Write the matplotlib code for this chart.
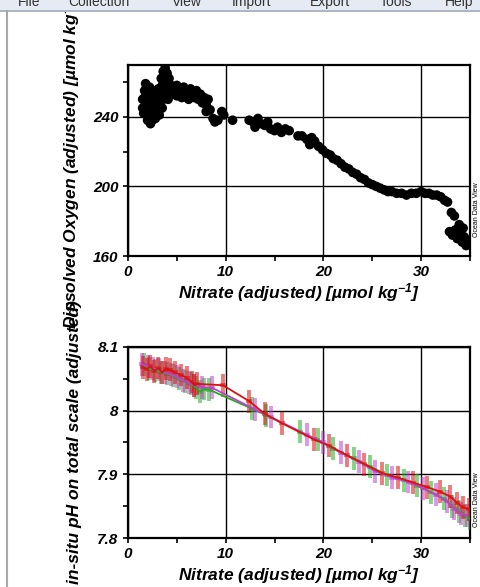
import matplotlib
matplotlib.use("Agg")
import matplotlib.pyplot as plt
from matplotlib.lines import Line2D
from matplotlib.patches import Rectangle
from matplotlib.transforms import Bbox, TransformedBbox

plt.rcParams['font.family'] = ['Liberation Sans', 'DejaVu Sans']
plt.rcParams['mathtext.fontset'] = 'custom'
plt.rcParams['mathtext.rm'] = 'Liberation Sans:bold:italic'
plt.rcParams['mathtext.it'] = 'Liberation Sans:bold:italic'
plt.rcParams['mathtext.bf'] = 'Liberation Sans:bold:italic'

# ---------------- data ----------------
menu_items = ["File", "Collection", "View", "Import", "Export", "Tools", "Help"]

# top panel: nitrate vs dissolved oxygen
ox_nitrate = [1.5, 1.5, 1.6, 1.7, 1.8, 1.9, 2.0, 2.0, 2.1, 2.2, 2.2, 2.3, 2.4, 2.5, 2.5,
              2.6, 2.7, 2.8, 2.9, 3.0, 3.0, 3.1, 3.2, 3.3, 3.4, 3.5, 3.5, 3.6, 3.7, 3.8,
              3.9, 4.0, 4.0, 4.1, 4.2, 4.3, 4.4, 4.6, 4.8, 5.0, 5.0, 5.3, 5.5, 5.7, 6.0,
              6.2, 6.4, 6.6, 6.8, 7.0, 7.2, 7.4, 7.6, 7.8, 8.0, 8.2, 8.0, 8.4, 8.7, 8.9,
              9.2, 9.6, 9.8, 10.7, 12.4, 12.8, 13.0, 13.3, 13.6, 14.0, 14.3, 14.6, 15.0,
              15.3, 15.7, 16.1, 16.5, 17.4, 17.8, 18.3, 18.6, 18.8, 19.1, 19.5, 19.9,
              20.3, 20.7, 21.0, 21.4, 21.8, 22.2, 22.6, 23.0, 23.4, 23.8, 24.2, 24.6,
              25.0, 25.4, 25.8, 26.2, 26.6, 27.0, 27.5, 28.0, 28.5, 29.0, 29.5, 30.0,
              30.4, 30.8, 31.2, 31.6, 32.0, 32.4, 32.7, 33.1, 33.4, 32.9, 33.2, 33.5,
              33.7, 33.9, 34.0, 34.2, 34.4, 34.6, 34.3, 34.7,
              1.7, 2.0, 2.4, 2.8, 3.2, 3.6, 1.9, 2.6, 3.3, 4.1]
ox_oxygen = [250, 245, 242, 255, 259, 248, 238, 244, 252, 257, 240, 236, 246, 250, 238,
             242, 254, 239, 247, 244, 252, 256, 241, 249, 262, 258, 245, 266, 253, 268,
             260, 265, 256, 250, 262, 255, 258, 253, 256, 252, 258, 255, 251, 257, 254,
             250, 256, 253, 251, 255, 250, 253, 248, 251, 247, 250, 243, 244, 239, 237,
             238, 243, 241, 238, 238, 237, 234, 239, 236, 235, 237, 233, 232,
             234, 231, 233, 232, 229, 229, 227, 224, 228, 226, 223, 221,
             219, 218, 216, 215, 213, 211, 210, 208, 207, 205, 204, 202,
             201, 200, 199, 198, 197, 197, 196, 196, 195, 196, 196, 197,
             196, 196, 195, 195, 194, 192, 191, 185, 183, 174, 172, 175,
             170, 178, 173, 168, 171, 166, 176, 169,
             251, 249, 243, 250, 246, 250, 253, 247, 254, 259]

# bottom panel: nitrate vs pH, three series
ph_green_x = [1.6, 2.2, 2.8, 3.4, 4.0, 4.6, 5.2, 5.8, 6.4, 7.0, 7.4, 7.8, 8.3,
              12.7, 14.1, 17.6, 19.4, 21.0, 23.1, 24.8, 26.5, 28.2, 29.6, 31.0,
              32.3, 33.2, 33.9, 34.5, 35.0]
ph_green_y = [8.072, 8.066, 8.063, 8.060, 8.058, 8.055, 8.050, 8.046, 8.042, 8.036,
              8.030, 8.034, 8.033, 8.003, 7.993, 7.967, 7.954, 7.940, 7.925, 7.912,
              7.899, 7.891, 7.882, 7.872, 7.862, 7.850, 7.842, 7.835, 7.830]
ph_magenta_x = [1.4, 2.0, 2.6, 3.2, 3.8, 4.4, 5.0, 5.6, 6.2, 6.8, 7.6, 8.6,
                13.0, 14.6, 18.3, 20.0, 21.8, 23.6, 25.3, 27.0, 28.7, 30.2, 31.5,
                32.6, 33.4, 34.1, 34.7]
ph_magenta_y = [8.073, 8.070, 8.066, 8.064, 8.060, 8.057, 8.053, 8.048, 8.044, 8.040,
                8.037, 8.036, 8.002, 7.990, 7.962, 7.950, 7.934, 7.920, 7.905, 7.895,
                7.888, 7.878, 7.868, 7.858, 7.846, 7.838, 7.835]
ph_red_x = [1.5, 1.9, 2.3, 2.7, 3.1, 3.5, 3.9, 4.3, 4.8, 5.4, 6.0, 6.5, 6.8, 7.1, 9.7,
            12.4, 14.0, 15.8, 19.0, 20.6, 22.4, 24.2, 26.0, 27.6, 29.2, 30.6, 31.9,
            33.0, 33.7, 34.3, 34.9]
ph_red_y = [8.068, 8.065, 8.070, 8.062, 8.067, 8.060, 8.066, 8.064, 8.060, 8.056,
            8.052, 8.045, 8.040, 8.042, 8.040, 8.015, 7.995, 7.980, 7.955, 7.945,
            7.930, 7.916, 7.902, 7.895, 7.887, 7.880, 7.873, 7.865, 7.855, 7.848, 7.845]
ph_err = 0.018
nit_err = 0.3

x_ticks = [0, 10, 20, 30]
ox_ticks = [160, 200, 240]
ph_ticks = [7.8, 7.9, 8.0, 8.1]
ph_ticklabels = ["7.8", "7.9", "8", "8.1"]

xlabel = r"Nitrate (adjusted) [µmol kg$^{-1}$]"
ox_label = r"Dissolved Oxygen (adjusted) [µmol kg$^{-1}$]"
ph_label = "in-situ pH on total scale (adjusted)"
credit = "Ocean Data View"

# ---------------- figure ----------------
W, H = 480, 587
fig = plt.figure(figsize=(W / 100, H / 100), dpi=100)
fig.patch.set_facecolor('white')


def fx(px):
    return px / W


def fy(py):
    return 1 - py / H


# menu bar
fig.patches.append(Rectangle((0, fy(10)), 1, 10 / H, transform=fig.transFigure,
                             facecolor='#e6eaf3', edgecolor='none', zorder=0))
fig.add_artist(Line2D([0, 1], [fy(11), fy(11)], transform=fig.transFigure,
                      color='#a0a8b8', lw=1.2))
fig.add_artist(Line2D([fx(7), fx(7)], [fy(11), 0], transform=fig.transFigure,
                      color='#a8a8a8', lw=1.5))
menu_x = [18, 68, 172, 232, 310, 380, 445]
for mx, item in zip(menu_x, menu_items):
    fig.text(fx(mx), fy(2), item, fontsize=10, color='#333333', ha='left',
             va='center', family=['Liberation Sans', 'DejaVu Sans'])

below_menu = TransformedBbox(Bbox([[0, 0], [1, fy(11.5)]]), fig.transFigure)


def style_axes(ax):
    for s in ax.spines.values():
        s.set_linewidth(1.6)
        s.set_color('black')
    ax.set_xlim(0, 35)
    ax.set_xticks(x_ticks)
    ax.set_xticks([5, 15, 25, 35], minor=True)
    ax.grid(True, which='major', color='black', lw=1.0)
    ax.tick_params(which='both', direction='out', length=3.8, width=1.2,
                   top=False, right=False, labelsize=11, pad=3)
    for lab in ax.get_xticklabels() + ax.get_yticklabels():
        lab.set_fontweight('bold')
        lab.set_fontstyle('italic')
    ax.set_xlabel(xlabel, fontsize=12.5, fontweight='bold', fontstyle='italic', labelpad=1)
    ax.set_axisbelow(True)


# top panel
ax1 = fig.add_axes([fx(128), fy(256), 342 / W, (256 - 64.5) / H])
ax1.scatter(ox_nitrate, ox_oxygen, s=48, c='black', edgecolors='none', zorder=3,
            clip_on=True)
ax1.set_ylim(160, 270)
ax1.set_yticks(ox_ticks)
ax1.set_yticks([220, 260], minor=True)
style_axes(ax1)
ax1.set_ylabel(ox_label, fontsize=12.5, fontweight='bold', fontstyle='italic')
ax1.yaxis.set_label_coords(-0.135, 0.5)
ax1.yaxis.label.set_clip_box(below_menu)
ax1.yaxis.label.set_clip_on(True)

# bottom panel
ax2 = fig.add_axes([fx(128), fy(538), 342 / W, (538 - 347) / H])
series = [(ph_green_x, ph_green_y, '#22b022'),
          (ph_magenta_x, ph_magenta_y, '#c040d0'),
          (ph_red_x, ph_red_y, '#dd1010')]
for xs, ys, col in series:
    ax2.errorbar(xs, ys, yerr=ph_err, xerr=nit_err, fmt='none', ecolor=col,
                 elinewidth=2.8, alpha=0.55, zorder=3)
for xs, ys, col in series:
    ax2.plot(xs, ys, color=col, lw=1.3, zorder=4)
ax2.set_ylim(7.8, 8.1)
ax2.set_yticks(ph_ticks)
ax2.set_yticklabels(ph_ticklabels)
ax2.set_yticks([7.85, 7.95, 8.05], minor=True)
style_axes(ax2)
ax2.set_ylabel(ph_label, fontsize=12.5, fontweight='bold', fontstyle='italic')
ax2.yaxis.set_label_coords(-0.135, 0.5)

# credit text
fig.text(fx(476), fy(210), credit, rotation=90, fontsize=5, ha='center', va='center')
fig.text(fx(476), fy(500), credit, rotation=90, fontsize=5, ha='center', va='center')

fig.savefig('out.png', dpi=100, facecolor='white')
